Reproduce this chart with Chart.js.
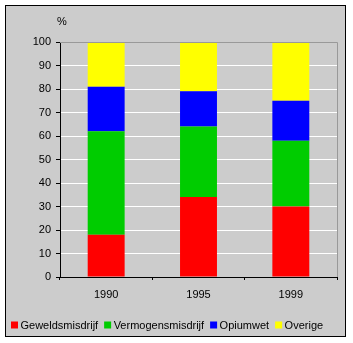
<!DOCTYPE html>
<html>
<head>
<meta charset="utf-8">
<script src="https://cdn.jsdelivr.net/npm/chart.js@4"></script>
<style>
  html, body { margin: 0; padding: 0; background: #fff; }
  canvas { display: block; }
</style>
</head>
<body>
<canvas id="chart" width="353" height="343"></canvas>
<script>
'use strict';

/* ─── Data ─────────────────────────────────────────────── */
const years     = ['1990', '1995', '1999'];
const geweld    = [18, 34, 30];
const vermogen  = [44, 30, 28];
const opium     = [19, 15, 17];
const overige   = [19, 21, 25];
const yTicks    = [0, 10, 20, 30, 40, 50, 60, 70, 80, 90, 100];

const FONT = "Arial, 'Liberation Sans', sans-serif";
const GRAY = '#CCCCCC';

/* ─── Frame: white page, gray panel, black border, plot outline ─── */
const framePlugin = {
  id: 'frame',
  beforeDraw(chart) {
    const c = chart.ctx;
    c.save();
    c.fillStyle = '#fff';
    c.fillRect(0, 0, chart.width, chart.height);
    c.fillStyle = GRAY;
    c.fillRect(5, 5, 341, 332);
    c.strokeStyle = '#000';
    c.lineWidth = 1;
    c.strokeRect(5.5, 5.5, 340, 331);
    // percent sign above axis
    c.fillStyle = '#000';
    c.font = '11px ' + FONT;
    c.textAlign = 'center';
    c.textBaseline = 'middle';
    c.fillText('%', 62, 22);
    c.restore();
  },
  afterDraw(chart) {
    const { left, right, top, bottom } = chart.chartArea;
    const c = chart.ctx;
    c.save();
    c.strokeStyle = '#999999';
    c.lineWidth = 1;
    c.beginPath();
    c.moveTo(left, Math.round(top) + 0.5);
    c.lineTo(Math.round(right) + 0.5, Math.round(top) + 0.5);
    c.lineTo(Math.round(right) + 0.5, bottom);
    c.stroke();

    /* legend row, one line, tight spacing like the original */
    c.font = '11px ' + FONT;
    c.textAlign = 'left';
    c.textBaseline = 'middle';
    let x = 11;
    const y = 325;
    chart.data.datasets.forEach(ds => {
      c.fillStyle = ds.backgroundColor;
      c.fillRect(x, y - 3.5, 7, 7);
      c.fillStyle = '#000';
      c.fillText(ds.label, x + 9.5, y + 0.5);
      x += 9.5 + c.measureText(ds.label).width + 6;
    });
    c.restore();
  },
};

Chart.defaults.font.family = FONT;
Chart.defaults.font.size = 11;
Chart.defaults.color = '#000';

new Chart(document.getElementById('chart'), {
  type: 'bar',
  data: {
    labels: years,
    datasets: [
      { label: 'Geweldsmisdrijf',   data: geweld,   backgroundColor: '#FF0000' },
      { label: 'Vermogensmisdrijf', data: vermogen, backgroundColor: '#00CC00' },
      { label: 'Opiumwet',          data: opium,    backgroundColor: '#0000FF' },
      { label: 'Overige',           data: overige,  backgroundColor: '#FFFF00' },
    ],
  },
  options: {
    responsive: false,
    animation: false,
    devicePixelRatio: 1,
    layout: { padding: { left: 5, top: 42, right: 16, bottom: 30 } },
    datasets: { bar: { barPercentage: 0.4, categoryPercentage: 1, borderWidth: 0 } },
    plugins: {
      tooltip: { enabled: false },
      legend: { display: false },
    },
    scales: {
      x: {
        stacked: true,
        afterFit: s => { s.height = 36; },
        grid: { display: true, drawOnChartArea: false, offset: true, color: '#000', tickLength: 3 },
        border: { color: '#000', width: 1 },
        ticks: { padding: 8, color: '#000' },
      },
      y: {
        stacked: true,
        min: 0,
        max: 100,
        afterFit: s => { s.width = 55; },
        afterBuildTicks: s => { s.ticks = yTicks.map(v => ({ value: v })); },
        grid: {
          color: ctx => (ctx.tick && (ctx.tick.value === 0) ? 'rgba(0,0,0,0)' : '#FFFFFF'),
          tickColor: '#000',
          tickLength: 4,
        },
        border: { color: '#000', width: 1 },
        ticks: { padding: 5, color: '#000' },
      },
    },
  },
  plugins: [framePlugin],
});
</script>
</body>
</html>
